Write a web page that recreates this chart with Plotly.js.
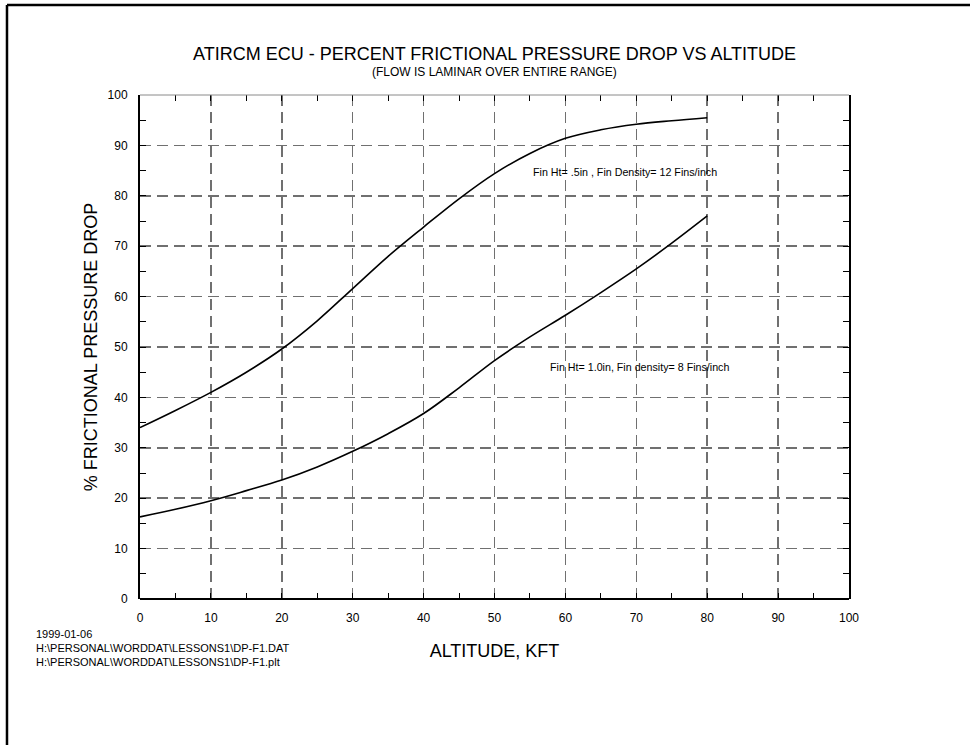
<!DOCTYPE html>
<html>
<head>
<meta charset="utf-8">
<script src="https://cdn.plot.ly/plotly-3.0.1.min.js"></script>
<style>html,body{margin:0;padding:0;background:#fff;}#chart{width:970px;height:745px;}</style>
</head>
<body>
<div id="chart"></div>
<script>
// Altitude (kft)
const altitude = [0, 5, 10, 15, 20, 25, 30, 35, 40, 45, 50, 55, 60, 65, 70, 75, 80];
// Fin Ht = .5in, Fin Density = 12 Fins/inch
const dropFin05 = [34.0, 37.4, 41.0, 45.0, 49.6, 55.2, 61.6, 68.0, 73.8, 79.4, 84.4, 88.4, 91.4, 93.1, 94.2, 94.9, 95.5];
// Fin Ht = 1.0in, Fin density = 8 Fins/inch
const dropFin10 = [16.3, 17.8, 19.5, 21.5, 23.6, 26.2, 29.3, 32.8, 36.8, 41.9, 47.3, 52.0, 56.3, 60.8, 65.5, 70.6, 76.0];

const xTicks = [0, 10, 20, 30, 40, 50, 60, 70, 80, 90, 100];
const yTicks = [0, 10, 20, 30, 40, 50, 60, 70, 80, 90, 100];

const titleText = "ATIRCM ECU - PERCENT FRICTIONAL PRESSURE DROP VS ALTITUDE";
const subtitleText = "(FLOW IS LAMINAR OVER ENTIRE RANGE)";
const labelFin05 = "Fin Ht= .5in , Fin Density= 12 Fins/inch";
const labelFin10 = "Fin Ht= 1.0in, Fin density= 8 Fins/inch";
const footerLines = ["1999-01-06", "H:\\PERSONAL\\WORDDAT\\LESSONS1\\DP-F1.DAT", "H:\\PERSONAL\\WORDDAT\\LESSONS1\\DP-F1.plt"];

const FONT = "Liberation Sans, Arial, Helvetica, sans-serif";

const traces = [
  {x: altitude, y: dropFin05, mode: 'lines', line: {color: '#000', width: 1.6, shape: 'spline'}, hoverinfo: 'skip'},
  {x: altitude, y: dropFin10, mode: 'lines', line: {color: '#000', width: 1.6, shape: 'spline'}, hoverinfo: 'skip'}
];

const axisCommon = {
  range: [0, 100],
  tickmode: 'array',
  ticks: 'inside',
  ticklen: 6,
  tickwidth: 1,
  tickcolor: '#000',
  showgrid: true,
  gridcolor: '#707070',
  gridwidth: 1.5,
  griddash: '11px,6px',
  zeroline: false,
  mirror: 'ticks',
  tickfont: {family: FONT, size: 12, color: '#000'},
  minor: {dtick: 5, ticks: 'inside', ticklen: 6, tickwidth: 1, tickcolor: '#000', showgrid: false},
  fixedrange: true
};

const footerAnns = footerLines.map((t, i) => ({
  xref: 'paper', yref: 'paper', x: -0.149, y: -(634 - 599 + i * 14) / 504,
  xanchor: 'left', yanchor: 'middle', showarrow: false, text: t,
  font: {family: FONT, size: 11, color: '#000'}
}));

const layout = {
  width: 970, height: 745,
  margin: {l: 140, r: 121, t: 95, b: 146},
  paper_bgcolor: '#fff', plot_bgcolor: '#fff',
  showlegend: false,
  xaxis: Object.assign({}, axisCommon, {
    tickvals: xTicks, ticktext: xTicks.map(String),
    showline: false, ticklabelstandoff: 10,
    title: {text: 'ALTITUDE, KFT', font: {family: FONT, size: 18, color: '#000'}, standoff: 20}
  }),
  yaxis: Object.assign({}, axisCommon, {
    tickvals: yTicks, ticktext: yTicks.map(String),
    showline: true, linecolor: '#000', linewidth: 2, ticklabelstandoff: 8,
    title: {text: '% FRICTIONAL PRESSURE DROP', font: {family: FONT, size: 18, color: '#000'}, standoff: 5}
  }),
  annotations: [
    {xref: 'paper', yref: 'paper', x: 0.5, y: 1.0 + (95 - 54) / 504, xanchor: 'center', yanchor: 'middle', showarrow: false,
     text: titleText, font: {family: FONT, size: 18, color: '#000'}},
    {xref: 'paper', yref: 'paper', x: 0.5, y: 1.0 + (95 - 72) / 504, xanchor: 'center', yanchor: 'middle', showarrow: false,
     text: subtitleText, font: {family: FONT, size: 12, color: '#000'}},
    {xref: 'x', yref: 'y', x: 55.1, y: 84.7, xanchor: 'left', yanchor: 'middle', showarrow: false,
     text: labelFin05, font: {family: FONT, size: 10.7, color: '#000'}},
    {xref: 'x', yref: 'y', x: 57.6, y: 46.0, xanchor: 'left', yanchor: 'middle', showarrow: false,
     text: labelFin10, font: {family: FONT, size: 10.7, color: '#000'}}
  ].concat(footerAnns),
  shapes: [
    // bottom axis line
    {type: 'line', xref: 'paper', yref: 'paper', x0: 0, x1: 1, y0: 0, y1: 0, line: {color: '#000', width: 2}},
    // top frame line (lighter)
    {type: 'line', xref: 'paper', yref: 'paper', x0: 0, x1: 1, y0: 1, y1: 1, line: {color: '#8a8a8a', width: 1}},
    // page border: left and top
    {type: 'line', xref: 'paper', yref: 'paper', x0: -0.1876, x1: -0.1876, y0: -0.30, y1: 1.1786, line: {color: '#000', width: 2.5}},
    {type: 'line', xref: 'paper', yref: 'paper', x0: -0.1876, x1: 1.18, y0: 1.1786, y1: 1.1786, line: {color: '#000', width: 2.5}}
  ]
};

Plotly.newPlot('chart', traces, layout, {displayModeBar: false, staticPlot: true});
</script>
</body>
</html>
